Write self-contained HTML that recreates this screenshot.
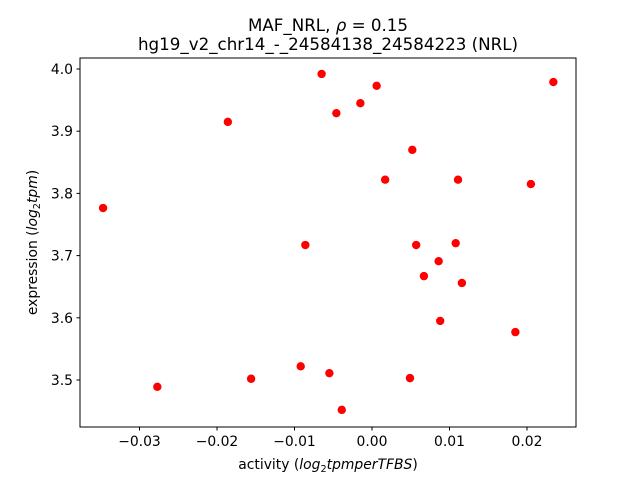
<!DOCTYPE html>
<html><head><meta charset="utf-8"><style>
body{margin:0;background:#fff;}
svg{display:block;font-family:"DejaVu Sans","Liberation Sans",sans-serif;}
</style></head><body>
<svg id="chart" width="640" height="480">
<rect x="0" y="0" width="640" height="480" fill="#fff"/>
<text x="328" y="31" font-size="16.7" text-anchor="middle">MAF_NRL, <tspan font-style="italic">ρ</tspan> = 0.15</text>
<text x="328" y="50" font-size="16.7" text-anchor="middle">hg19_v2_chr14_-_24584138_24584223 (NRL)</text>
<g id="xticks"></g>
<g id="yticks"></g>
<g id="points"></g>
<rect x="80" y="58" width="496" height="369" fill="none" stroke="#000" stroke-width="1"/>
<text x="328" y="469" font-size="13.9" text-anchor="middle">activity (<tspan font-style="italic">log</tspan><tspan font-size="9.7" dy="3">2</tspan><tspan dy="-3" font-style="italic">tpmperTFBS</tspan>)</text>
<text transform="translate(37,242.5) rotate(-90)" font-size="13.9" text-anchor="middle">expression (<tspan font-style="italic">log</tspan><tspan font-size="9.7" dy="3">2</tspan><tspan dy="-3" font-style="italic">tpm</tspan>)</text>
</svg>
<script>
const xValues=[-0.0347,-0.0277,-0.0186,-0.0156,-0.0092,-0.0086,-0.0065,-0.0055,-0.0046,-0.0039,-0.0015,0.0006,0.0017,0.0049,0.0052,0.0057,0.0067,0.0086,0.0088,0.0108,0.0111,0.0116,0.0185,0.0205,0.0234];
const yValues=[3.7765,3.489,3.915,3.502,3.522,3.717,3.992,3.511,3.929,3.452,3.945,3.973,3.822,3.503,3.870,3.717,3.667,3.691,3.595,3.720,3.822,3.656,3.577,3.815,3.979];
const xTicks=[-0.03,-0.02,-0.01,0.00,0.01,0.02];
const xTickLabels=["−0.03","−0.02","−0.01","0.00","0.01","0.02"];
const yTicks=[3.5,3.6,3.7,3.8,3.9,4.0];
const yTickLabels=["3.5","3.6","3.7","3.8","3.9","4.0"];
const NS="http://www.w3.org/2000/svg";
function xs(v){return 372+v*7750;}
function ys(v){return 69+(4.0-v)*622;}
function mk(t,a,p){const e=document.createElementNS(NS,t);for(const k in a)e.setAttribute(k,a[k]);p.appendChild(e);return e;}
const gx=document.getElementById('xticks'),gy=document.getElementById('yticks'),gp=document.getElementById('points');
xTicks.forEach((v,i)=>{const x=xs(v);
const l=mk('line',{x1:x,x2:x,y1:427,y2:430.5,stroke:'#000'},gx);


const t=mk('text',{x:x,y:446,'font-size':13.9,'text-anchor':'middle'},gx);t.textContent=xTickLabels[i];

});
yTicks.forEach((v,i)=>{const y=ys(v);
const l=mk('line',{x1:76.5,x2:80,y1:y,y2:y,stroke:'#000'},gy);


const t=mk('text',{x:73,y:y+5,'font-size':13.9,'text-anchor':'end'},gy);t.textContent=yTickLabels[i];

});
xValues.forEach((v,i)=>{const c=mk('circle',{cx:xs(v),cy:ys(yValues[i]),r:4.2,fill:'#ff0000'},gp);

});
</script>
</body></html>
